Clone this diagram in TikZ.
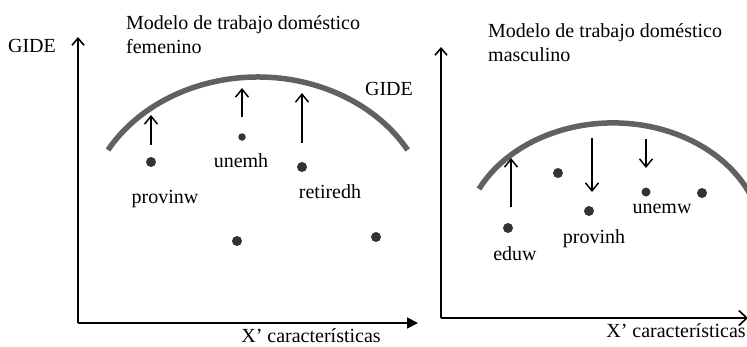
\documentclass[tikz,border=0pt]{standalone}
\usepackage{fontspec}
\setmainfont{Liberation Serif}
\usepackage{tikz}
\usetikzlibrary{arrows.meta}

\begin{document}
\begin{tikzpicture}[x=1bp,y=-1bp,
    every node/.style={font=\fontsize{20bp}{23bp}\selectfont, inner sep=0pt},
    axis/.style={line width=1.6bp},
    gide/.style={line width=5.5bp, draw=black!62},
    dot/.style={circle, fill=black!80, minimum size=10bp},
    smalldot/.style={circle, fill=black!80, minimum size=7.5bp},
    effect/.style={line width=1.5bp, -{Straight Barb[length=8bp, width=13bp]}}]
    \useasboundingbox (0,0) rectangle (747,346);

    % femenino
    \coordinate (fo) at (78,323);
    \coordinate (fy) at (78,37);
    \coordinate (fx) at (418,323);
    \draw[axis, -{Straight Barb[length=7bp, width=12bp]}] (fo) -- (fy);
    \draw[axis, -{Triangle[length=11bp, width=11bp]}] (fo) -- (fx);
    \node[anchor=base] (fgide) at (32,52) {GIDE};
    \node[anchor=base] (fxlab) at (311,342) {X’ características};
    \node[anchor=base west] (ftitle) at (126,29) {Modelo de trabajo doméstico};
    \node[anchor=base west] (ftitleb) at (126,53) {femenino};
    \draw[gide] (108,150) arc[start angle=150, end angle=30, x radius=173bp, y radius=146bp];
    \node[anchor=base] (fcurve) at (389,95) {GIDE};

    \node[dot] (provinw) at (151,162) {};
    \node[smalldot] (unemh) at (242,137) {};
    \node[dot] (retiredh) at (302,167) {};
    \node[dot] (fd4) at (237,241) {};
    \node[dot] (fd5) at (376,237) {};
    \node[anchor=base] (provinwlab) at (165,203) {provinw};
    \node[anchor=base] (unemhlab) at (241,167) {unemh};
    \node[anchor=base] (retiredhlab) at (330,198) {retiredh};

    \coordinate (fa1) at (151,145); \coordinate (fb1) at (151,115);
    \coordinate (fa2) at (242,117); \coordinate (fb2) at (242,88);
    \coordinate (fa3) at (302,143); \coordinate (fb3) at (302,93);
    \draw[effect] (fa1) -- (fb1);
    \draw[effect] (fa2) -- (fb2);
    \draw[effect] (fa3) -- (fb3);

    % masculino
    \coordinate (mo) at (441,318);
    \coordinate (my) at (441,47);
    \coordinate (mx) at (748,318);
    \draw[axis, -{Straight Barb[length=7bp, width=12bp]}] (mo) -- (my);
    \draw[axis, -{Straight Barb[length=8bp, width=15bp]}] (mo) -- (mx);
    \node[anchor=base] (mxlab) at (676,337) {X’ características};
    \node[anchor=base west] (mtitle) at (488,37) {Modelo de trabajo doméstico};
    \node[anchor=base west] (mtitleb) at (488,61) {masculino};
    \draw[gide] (479,189) arc[start angle=153.3, end angle=18, x radius=150bp, y radius=120bp];

    \node[dot] (eduw) at (508,228) {};
    \node[dot] (md2) at (558,173) {};
    \node[dot] (provinh) at (589,211) {};
    \node[dot, minimum size=9bp] (unemw) at (646,192) {};
    \node[dot] (md5) at (702,193) {};
    \node[anchor=base] (eduwlab) at (515,260) {eduw};
    \node[anchor=base] (provinhlab) at (594,243) {provinh};
    \node[anchor=base] (unemwlab) at (662,213) {unemw};

    \coordinate (ma1) at (511,207); \coordinate (mb1) at (511,158);
    \coordinate (ma2) at (592,138); \coordinate (mb2) at (592,192);
    \coordinate (ma3) at (646,139); \coordinate (mb3) at (646,168);
    \draw[effect] (ma1) -- (mb1);
    \draw[effect] (ma2) -- (mb2);
    \draw[effect] (ma3) -- (mb3);
\end{tikzpicture}
\end{document}
